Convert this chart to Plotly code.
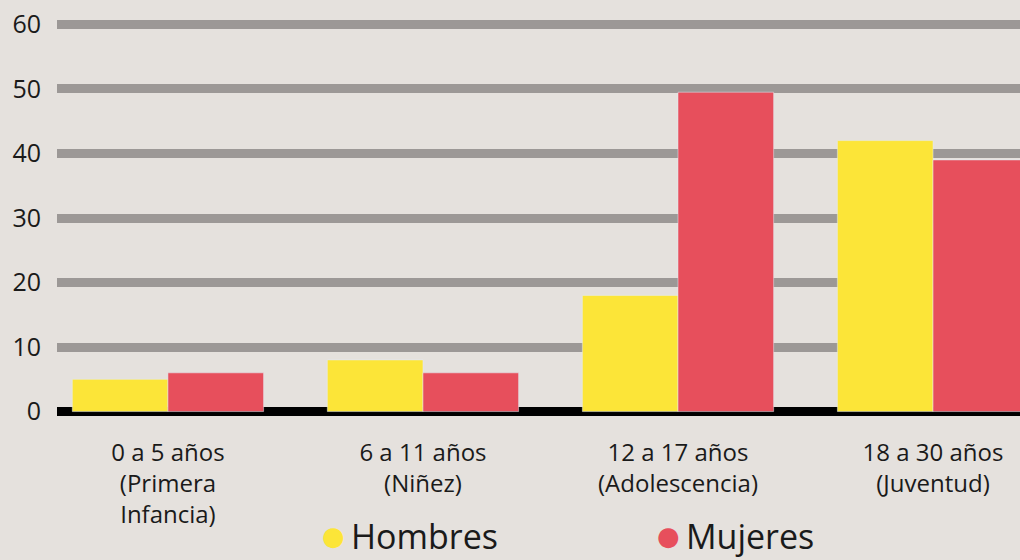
import plotly.graph_objects as go

_BG = "#e5e1dd"
_GRID = "#9c9896"
_TEXT = "#1a1a1a"
_YELLOW = "#fce538"
_RED = "#e74f5c"

categorias = [
    "0 a 5 años<br>(Primera<br>Infancia)",
    "6 a 11 años<br>(Niñez)",
    "12 a 17 años<br>(Adolescencia)",
    "18 a 30 años<br>(Juventud)",
]
hombres = [5, 8, 18, 42]
mujeres = [6, 6, 49.5, 39]
y_ticks = [0, 10, 20, 30, 40, 50, 60]

series = [("Hombres", hombres, _YELLOW), ("Mujeres", mujeres, _RED)]

fig = go.Figure()
for name, vals, colour in series:
    fig.add_trace(go.Bar(x=categorias, y=vals, name=name,
                         marker_color=colour, showlegend=False))

# hand-made legend below the plot (a real legend would push the margins)
legend_x = [0.287, 0.635]
for (name, _, colour), lx in zip(series, legend_x):
    fig.add_annotation(xref="paper", yref="paper", x=lx, y=-0.296,
                       xanchor="center", yanchor="middle", showarrow=False,
                       text="●", font=dict(size=26, color=colour, family="DejaVu Sans"))
    fig.add_annotation(xref="paper", yref="paper", x=lx + 0.016, y=-0.296,
                       xanchor="left", yanchor="middle", showarrow=False,
                       text=name, font=dict(size=34, color=_TEXT, family="Open Sans"))

fig.update_layout(
    width=1020, height=560,
    paper_bgcolor=_BG, plot_bgcolor=_BG,
    font=dict(family="Open Sans", color=_TEXT),
    margin=dict(l=57, r=0, t=18, b=142),
    barmode="group", bargap=0.25, bargroupgap=0,
    showlegend=False,
    xaxis=dict(
        type="category", range=[-0.435, 3.341],
        showgrid=False, showline=False, zeroline=False,
        ticks="outside", ticklen=13, tickcolor="rgba(0,0,0,0)",
        tickfont=dict(size=24, color=_TEXT),
    ),
    yaxis=dict(
        range=[-1, 61], tickvals=y_ticks,
        showgrid=True, gridcolor=_GRID, gridwidth=9,
        zeroline=True, zerolinecolor="#000000", zerolinewidth=9,
        showline=False,
        ticks="outside", ticklen=10, tickcolor="rgba(0,0,0,0)",
        tickfont=dict(size=25, color=_TEXT),
    ),
)

fig.write_html("out.html", config={"displayModeBar": False},
               post_script="document.body.style.margin='0';")
